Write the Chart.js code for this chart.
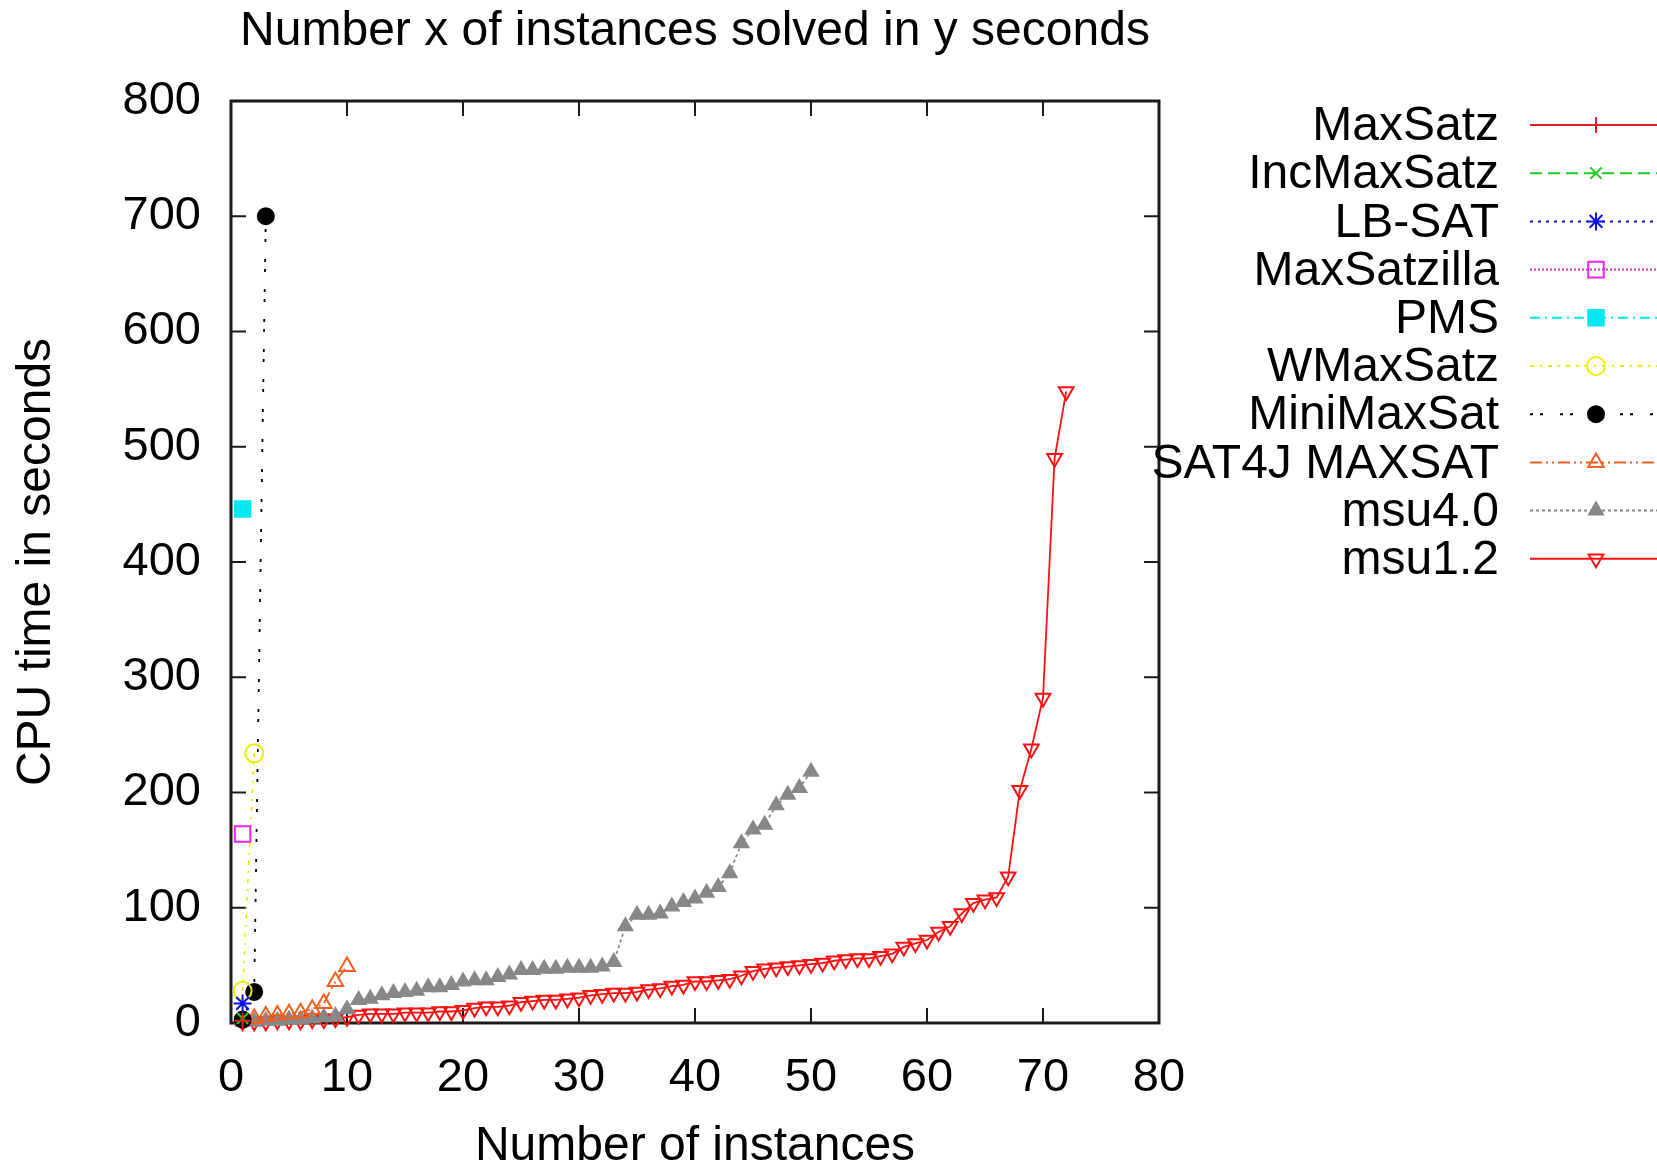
<!DOCTYPE html>
<html>
<head>
<meta charset="utf-8">
<title>Number x of instances solved in y seconds</title>
<script src="https://cdn.jsdelivr.net/npm/chart.js@4.4.1/dist/chart.umd.min.js"></script>
<style>
  html, body { margin: 0; padding: 0; background: #fff; }
  #wrap { width: 1657px; height: 1167px; position: relative; }
</style>
</head>
<body>
<div id="wrap"><canvas id="myChart"></canvas></div>
<script>
// values: n-th value = CPU seconds needed for n instances (n = 1, 2, ...)
const solverNames = ['MaxSatz', 'IncMaxSatz', 'LB-SAT', 'MaxSatzilla', 'PMS', 'WMaxSatz',
  'MiniMaxSat', 'SAT4J MAXSAT', 'msu4.0', 'msu1.2'];

const maxSatz = [2];
const incMaxSatz = [4];
const lbSat = [17];
const maxSatzilla = [164];
const pms = [446];
const wMaxSatz = [28, 234];
const miniMaxSat = [3, 27, 700];
const sat4jMaxsat = [3, 4, 6, 7, 8, 9, 12, 17, 36, 49];
const msu40 = [1, 1, 2, 2, 3, 3, 4, 5, 6, 12,
  20, 21, 24, 26, 27, 28, 31, 31, 33, 36,
  37, 37, 40, 42, 46, 46, 47, 47, 48, 48,
  48, 49, 53, 84, 94, 94, 95, 101, 105, 108,
  113, 118, 130, 156, 168, 172, 189, 198, 204, 218];
const msu12 = [1, 1, 1, 2, 2, 2, 3, 3, 4, 5,
  7, 8, 8, 8, 9, 9, 9, 10, 10, 11,
  13, 14, 14, 15, 18, 19, 20, 20, 21, 22,
  24, 25, 26, 26, 27, 29, 30, 32, 33, 36,
  36, 37, 38, 41, 45, 47, 48, 49, 50, 51,
  52, 54, 55, 56, 56, 58, 60, 66, 69, 72,
  79, 84, 95, 104, 107, 109, 127, 202, 238, 282,
  490, 548];

const xTicks = [0, 10, 20, 30, 40, 50, 60, 70, 80];
const yTicks = [0, 100, 200, 300, 400, 500, 600, 700, 800];

const FONT = '"Liberation Sans", Arial, Helvetica, sans-serif';

// turn a list of times into (n, time) points
function toPoints(arr) {
  return arr.map((v, i) => ({ x: i + 1, y: v }));
}

// one dataset per solver, gnuplot-like line and point types
function series(label, values, color, dash, style, radius, fill, rotation) {
  return {
    label: label,
    data: toPoints(values),
    borderColor: color,
    borderWidth: 1.8,
    borderDash: dash,
    pointStyle: style,
    pointRadius: radius,
    pointHoverRadius: radius,
    pointBorderColor: color,
    pointBackgroundColor: fill ? color : 'rgba(255,255,255,0)',
    pointBorderWidth: 2,
    pointRotation: rotation || 0,
    tension: 0,
    clip: false
  };
}

const data = {
  datasets: [
    series(solverNames[0], maxSatz, '#e02020', [], 'cross', 8, false),
    series(solverNames[1], incMaxSatz, '#22cc22', [12, 6], 'crossRot', 8, false),
    series(solverNames[2], lbSat, '#1010ee', [3, 5], 'star', 9, false),
    series(solverNames[3], maxSatzilla, '#ee22ee', [2, 2], 'rect', 11, false),
    series(solverNames[4], pms, '#00e8f0', [10, 5, 2, 5], 'rect', 11, true),
    series(solverNames[5], wMaxSatz, '#eeee00', [4, 6, 2, 6], 'circle', 9, false),
    series(solverNames[6], miniMaxSat, '#000000', [3, 7, 3, 17], 'circle', 8, true),
    series(solverNames[7], sat4jMaxsat, '#f06020', [12, 4, 2, 4, 2, 4], 'triangle', 9, false),
    series(solverNames[8], msu40, '#888888', [3, 3], 'triangle', 8, true),
    series(solverNames[9], msu12, '#ff1010', [], 'triangle', 8.5, false, 180)
  ]
};

// frame with inward ticks on all four sides, like gnuplot
const framePlugin = {
  id: 'frame',
  beforeDatasetsDraw(chart) {
    const { ctx, chartArea: a, scales: { x, y } } = chart;
    const tl = 15;
    ctx.save();
    ctx.strokeStyle = '#1a1a1a';
    ctx.lineWidth = 2;
    ctx.beginPath();
    xTicks.forEach(v => {
      const px = x.getPixelForValue(v);
      ctx.moveTo(px, a.bottom); ctx.lineTo(px, a.bottom - tl);
      ctx.moveTo(px, a.top); ctx.lineTo(px, a.top + tl);
    });
    yTicks.forEach(v => {
      const py = y.getPixelForValue(v);
      ctx.moveTo(a.left, py); ctx.lineTo(a.left + tl, py);
      ctx.moveTo(a.right, py); ctx.lineTo(a.right - tl, py);
    });
    ctx.stroke();
    ctx.lineWidth = 3;
    ctx.strokeRect(a.left, a.top, a.right - a.left, a.bottom - a.top);
    ctx.restore();
  }
};

// title and right-aligned key with line samples, drawn from the datasets
const keyPlugin = {
  id: 'key',
  afterDraw(chart) {
    const { ctx, chartArea: a } = chart;
    ctx.save();
    ctx.fillStyle = '#000';
    ctx.font = '48px ' + FONT;
    ctx.textAlign = 'center';
    ctx.textBaseline = 'alphabetic';
    ctx.fillText('Number x of instances solved in y seconds', (a.left + a.right) / 2, 45);

    chart.data.datasets.forEach((ds, i) => {
      const yy = 125 + i * 48.2;
      ctx.fillStyle = '#000';
      ctx.font = '48px ' + FONT;
      ctx.textAlign = 'right';
      ctx.textBaseline = 'middle';
      ctx.fillText(ds.label, 1499, yy + 2);

      ctx.strokeStyle = ds.borderColor;
      ctx.lineWidth = 2;
      ctx.setLineDash(ds.borderDash);
      ctx.beginPath();
      ctx.moveTo(1530, yy);
      ctx.lineTo(1662, yy);
      ctx.stroke();
      ctx.setLineDash([]);

      ctx.fillStyle = ds.pointBackgroundColor;
      ctx.strokeStyle = ds.pointBorderColor;
      ctx.lineWidth = ds.pointBorderWidth;
      Chart.helpers.drawPoint(ctx, {
        pointStyle: ds.pointStyle,
        rotation: ds.pointRotation,
        radius: ds.pointRadius,
        borderWidth: ds.pointBorderWidth
      }, 1596, yy);
    });
    ctx.restore();
  }
};

const config = {
  type: 'line',
  data,
  options: {
    responsive: true,
    maintainAspectRatio: false,
    animation: false,
    layout: { padding: { left: 0, right: 498, top: 101, bottom: 0 } },
    plugins: {
      legend: { display: false },
      title: { display: false },
      tooltip: { enabled: false }
    },
    scales: {
      x: {
        type: 'linear',
        min: 0,
        max: 80,
        afterBuildTicks: s => { s.ticks = xTicks.map(v => ({ value: v })); },
        afterFit: s => { s.height = 144; },
        grid: { display: false, drawTicks: false },
        border: { display: false },
        ticks: { color: '#000', padding: 27, maxRotation: 0, font: { family: FONT, size: 47 } },
        title: {
          display: true, text: 'Number of instances', color: '#000',
          font: { family: FONT, size: 48, lineHeight: 0.85 }, padding: { top: 0, bottom: 0 }
        }
      },
      y: {
        type: 'linear',
        min: 0,
        max: 800,
        afterBuildTicks: s => { s.ticks = yTicks.map(v => ({ value: v })); },
        afterFit: s => { s.width = 231; },
        grid: { display: false, drawTicks: false },
        border: { display: false },
        ticks: { color: '#000', padding: 30, font: { family: FONT, size: 47 } },
        title: {
          display: true, text: 'CPU time in seconds', color: '#000',
          font: { family: FONT, size: 48, lineHeight: 1 }, padding: { top: 13, bottom: 0 }
        }
      }
    }
  },
  plugins: [framePlugin, keyPlugin]
};

const myChart = new Chart(document.getElementById('myChart'), config);
</script>
</body>
</html>
